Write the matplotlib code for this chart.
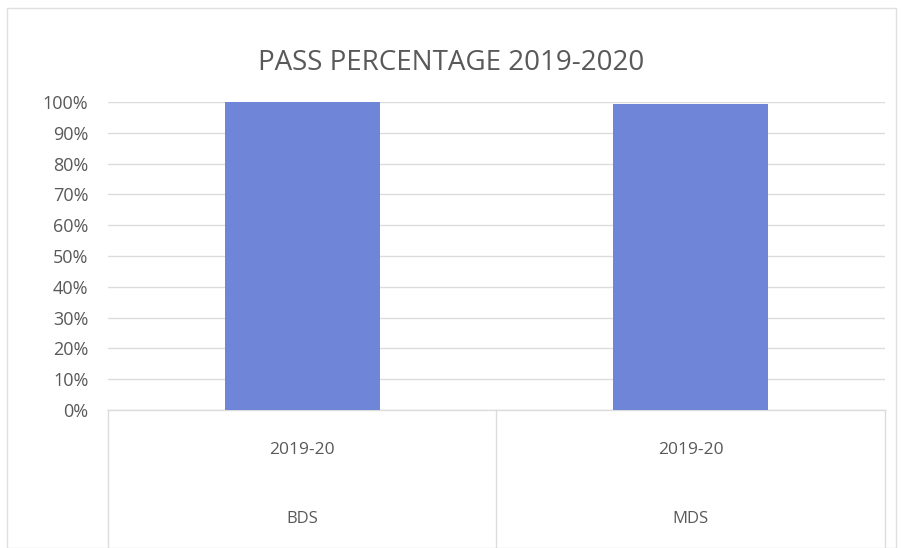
import numpy as np
import matplotlib.pyplot as plt
from matplotlib.ticker import PercentFormatter
from matplotlib.patches import Rectangle

# data
groups = ['BDS', 'MDS']
years = ['2019-20', '2019-20']
pass_pct = [100, 99.5]
yticks = np.arange(0, 101, 10)

plt.rcParams['font.family'] = ['Open Sans', 'DejaVu Sans']
grey = '#595959'

fig = plt.figure(figsize=(9.02, 5.48), dpi=100)
ax = fig.add_axes([0.1197, 0.2518, 0.8614, 0.5621])

x = np.arange(len(groups))
ax.bar(x, pass_pct, width=0.4, color='#6f85d8', zorder=3)

ax.set_xlim(-0.5, len(groups) - 0.5)
ax.set_ylim(0, 100)
ax.set_yticks(yticks)
ax.yaxis.set_major_formatter(PercentFormatter(decimals=0))
ax.tick_params(axis='y', length=0, labelsize=13, labelcolor=grey, pad=14)
ax.set_xticks([])
ax.grid(axis='y', color='#dcdcdc', lw=1, zorder=0)
for s in ax.spines.values():
    s.set_visible(False)

# multilevel category axis
tr = ax.get_xaxis_transform()
ax.plot([-0.5, 1.5], [0, 0], color='#dcdcdc', lw=1, transform=tr, clip_on=False)
for xs in [-0.5, 0.5, 1.5]:
    ax.plot([xs, xs], [0, -0.53], color='#dcdcdc', lw=1, transform=tr, clip_on=False)
for i in x:
    ax.text(i, -0.13, years[i], transform=tr, ha='center', va='center',
            fontsize=12.5, color=grey)
    ax.text(i, -0.355, groups[i], transform=tr, ha='center', va='center',
            fontsize=12, color=grey)

fig.text(0.5, 0.885, 'PASS PERCENTAGE 2019-2020', ha='center', va='center',
         fontsize=20, color=grey)
fig.patches.append(Rectangle((0.008, 0.0), 0.985, 0.985, transform=fig.transFigure,
                             fill=False, edgecolor='#e0e0e0', lw=1))

fig.savefig('out.png', dpi=100)
